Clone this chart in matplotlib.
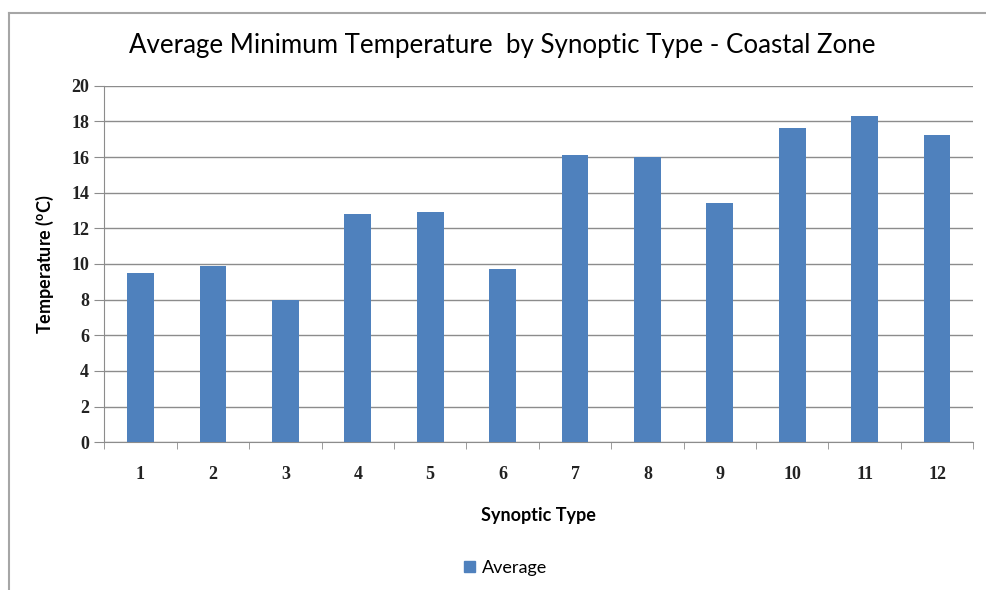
import numpy as np
import matplotlib
matplotlib.use("Agg")
import matplotlib.pyplot as plt
from matplotlib.lines import Line2D
from matplotlib.patches import Patch

# average minimum temperature per synoptic type
types = ["1", "2", "3", "4", "5", "6", "7", "8", "9", "10", "11", "12"]
average = [9.5, 9.9, 8.0, 12.8, 12.9, 9.7, 16.1, 16.0, 13.4, 17.6, 18.3, 17.25]

blue = "#4f81bd"
grid = "#8c8c8c"
sans = ["Lato", "DejaVu Sans"]
serif = ["Liberation Serif", "DejaVu Serif"]

W, H = 986, 590
fig = plt.figure(figsize=(W / 100, H / 100), dpi=100)

# frame round the chart area (only top and left edges show)
fig.add_artist(Line2D([8.5 / W, 8.5 / W], [0, 1 - 13 / H], transform=fig.transFigure,
                      color="#a6a6a6", lw=1.5))
fig.add_artist(Line2D([8.5 / W, 1], [1 - 13 / H, 1 - 13 / H], transform=fig.transFigure,
                      color="#a6a6a6", lw=1.5))

left, right, top, bottom = 104.3, 973.3, 85.7, 442.3
ax = fig.add_axes([left / W, 1 - bottom / H, (right - left) / W, (bottom - top) / H])

x = np.arange(len(types))
ax.bar(x, average, width=0.37, color=blue, zorder=3)

ax.set_xlim(-0.5, len(types) - 0.5)
ax.set_ylim(0, 20)
ax.set_yticks(np.arange(0, 21, 2))
ax.yaxis.grid(True, color=grid, lw=1.0, zorder=0)

ax.set_xticks(x)
ax.set_xticklabels(types, fontfamily=serif, fontweight="bold", fontsize=13, color="#222222")
ax.set_xticks(np.arange(-0.5, len(types), 1), minor=True)
ax.tick_params(axis="x", which="major", length=0, pad=17)
ax.tick_params(axis="x", which="minor", length=5, direction="out", color=grid)
ax.tick_params(axis="y", length=7, direction="out", color=grid, pad=4)
for lab in ax.get_yticklabels():
    lab.set_fontfamily(serif)
    lab.set_fontweight("bold")
    lab.set_fontsize(13)
    lab.set_color("#222222")

for s in ["top", "right"]:
    ax.spines[s].set_visible(False)
ax.spines["left"].set_color(grid)
ax.spines["bottom"].set_color(grid)

ax.set_ylabel("Temperature ($^{\\mathregular{o}}$C)", fontfamily=sans, fontweight="bold",
              fontsize=13, labelpad=11)
ax.set_xlabel("Synoptic Type", fontfamily=sans, fontweight="bold", fontsize=13, labelpad=17)

fig.text(502 / W, 1 - 45 / H, "Average Minimum Temperature  by Synoptic Type - Coastal Zone",
         ha="center", va="center", fontfamily=sans, fontsize=18.6)

fig.legend(handles=[Patch(color=blue, label="Average")], loc="center",
           bbox_to_anchor=(506 / W, 1 - 568 / H), frameon=False,
           prop={"family": sans, "size": 13}, handlelength=0.6, handleheight=0.6,
           handletextpad=0.4)

fig.savefig("out.png", dpi=100, facecolor="white")
